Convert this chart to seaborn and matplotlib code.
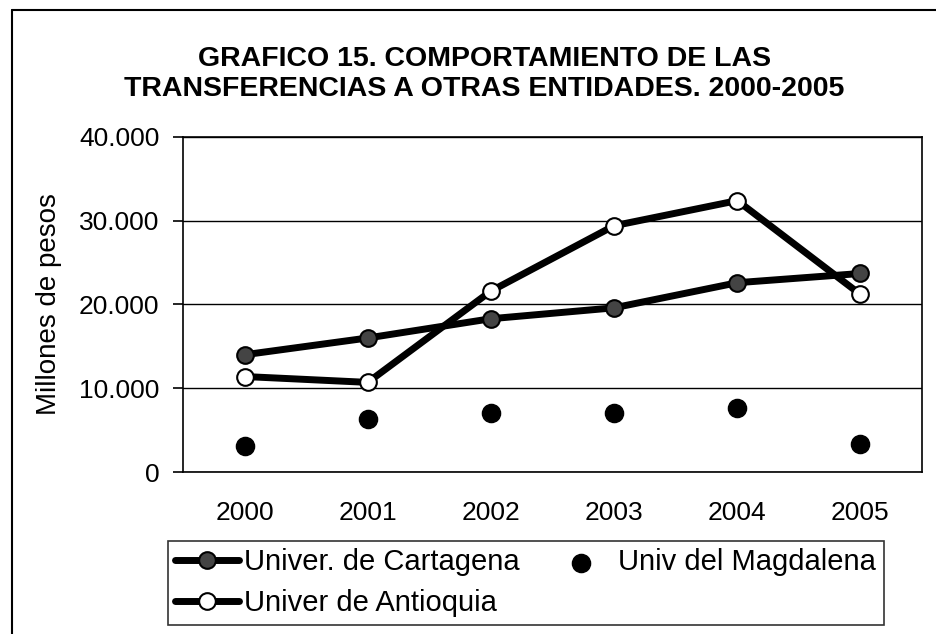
import matplotlib
matplotlib.use("Agg")
import matplotlib.pyplot as plt
import matplotlib.ticker as mticker
from matplotlib.lines import Line2D
import seaborn as sns
import pandas as pd

years = ["2000", "2001", "2002", "2003", "2004", "2005"]
cartagena = [14000, 16000, 18300, 19600, 22600, 23700]
magdalena = [3100, 6300, 7100, 7000, 7600, 3300]
antioquia = [11400, 10700, 21600, 29400, 32400, 21200]
names = ["Univer. de Cartagena", "Univ del Magdalena", "Univer de Antioquia"]

sns.set_theme(style="white", rc={"text.color": "black", "axes.labelcolor": "black",
                                 "xtick.color": "black", "ytick.color": "black"})
plt.rcParams['font.family'] = ['Liberation Sans', 'DejaVu Sans']

fig = plt.figure(figsize=(9.37, 6.34), dpi=100)
ax = fig.add_axes([0.1953, 0.2555, 0.7887, 0.5285])

x = list(range(len(years)))
df_c = pd.DataFrame({"x": x, "y": cartagena})
df_m = pd.DataFrame({"x": x, "y": magdalena})
df_a = pd.DataFrame({"x": x, "y": antioquia})

sns.lineplot(data=df_c, x="x", y="y", ax=ax, color="black", lw=5,
             marker="o", markersize=12, markerfacecolor="#444444",
             markeredgecolor="black", markeredgewidth=1.5, label=names[0], zorder=3)
sns.lineplot(data=df_a, x="x", y="y", ax=ax, color="black", lw=5,
             marker="o", markersize=12, markerfacecolor="white",
             markeredgecolor="black", markeredgewidth=1.5, label=names[2], zorder=4)
sns.scatterplot(data=df_m, x="x", y="y", ax=ax, color="black", s=170,
                edgecolor="black", label=names[1], zorder=5)

ax.set_xlim(-0.5, 5.5)
ax.set_ylim(0, 40000)
ax.set_yticks([0, 10000, 20000, 30000, 40000])
ax.yaxis.set_major_formatter(mticker.FuncFormatter(lambda v, p: f"{int(v):,}".replace(",", ".")))
ax.set_xticks(x)
ax.set_xticklabels(years)
ax.xaxis.set_minor_locator(mticker.FixedLocator([i - 0.5 for i in range(7)]))
ax.tick_params(axis="x", which="major", length=0, labelsize=19, pad=21, labelcolor="black")
ax.tick_params(axis="x", which="minor", length=7, width=1.2, color="black", direction="out")
ax.tick_params(axis="y", length=7, width=1.2, color="black", direction="out", labelsize=19,
               left=True, pad=10, labelcolor="black")
ax.grid(axis="y", color="black", lw=1)
ax.set_axisbelow(True)
for s in ax.spines.values():
    s.set_color("black")
    s.set_linewidth(1.2)
ax.set_xlabel("")
ax.set_ylabel("Millones de pesos", fontsize=20, labelpad=12, color="black")

h, l = ax.get_legend_handles_labels()
order = [l.index(names[0]), l.index(names[2]), l.index(names[1])]
leg = fig.legend([h[i] for i in order], [l[i] for i in order], ncol=2,
                 loc="upper left", bbox_to_anchor=(168 / 937, 1 - 541 / 634), fontsize=21,
                 frameon=True, fancybox=False, edgecolor="black",
                 handlelength=2.2, handletextpad=0.17, columnspacing=1.0,
                 labelspacing=0.45, borderpad=0.25, borderaxespad=0, labelcolor="black")
leg.get_frame().set_linewidth(1.2)
if ax.get_legend():
    ax.get_legend().remove()

fig.text(0.517, 1 - 74 / 634, "GRAFICO 15. COMPORTAMIENTO DE LAS\nTRANSFERENCIAS A OTRAS ENTIDADES. 2000-2005",
         ha="center", va="center", fontsize=20.5, fontweight="bold", linespacing=1.2,
         color="black")

fig.add_artist(Line2D([12 / 937, 12 / 937], [0, 1 - 10 / 634], transform=fig.transFigure,
                      color="black", lw=1.5))
fig.add_artist(Line2D([12 / 937, 1], [1 - 10 / 634, 1 - 10 / 634], transform=fig.transFigure,
                      color="black", lw=1.5))

fig.savefig("out.png", dpi=100)
